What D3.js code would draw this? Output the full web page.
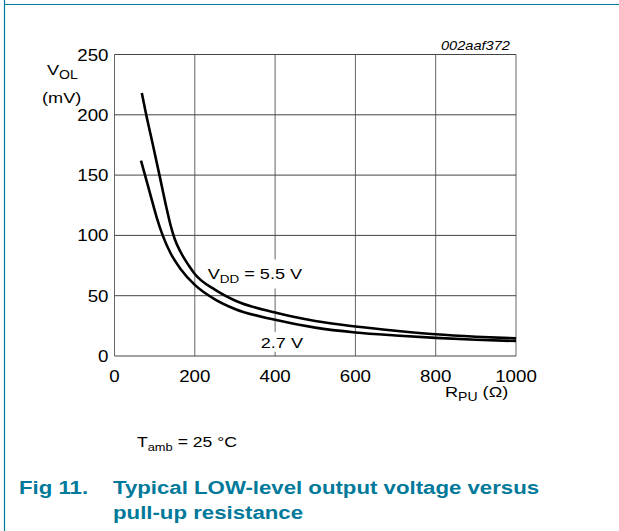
<!DOCTYPE html>
<html>
<head>
<meta charset="utf-8">
<script src="https://cdn.jsdelivr.net/npm/d3@7"></script>
<style>
  body { margin: 0; background: #fff; }
  svg text { font-family: "Liberation Sans", Arial, sans-serif; }
</style>
</head>
<body>
<svg id="chart"></svg>
<script>
// values
const xTicks = [0, 200, 400, 600, 800, 1000];
const yTicks = [0, 50, 100, 150, 200, 250];

const rpu55 = [68, 79, 95, 112, 128, 140, 150, 165, 185, 200, 250, 300, 400, 500, 600, 700, 800, 900, 1000];
const vol55 = [218, 200, 176, 150, 125, 108, 97, 86, 75, 68, 55, 46, 36, 29, 24.5, 21, 18, 16, 14.6];

const rpu27 = [66, 76, 90, 105, 120, 140, 165, 200, 250, 300, 400, 500, 600, 700, 800, 900, 1000];
const vol27 = [162, 150, 133, 115, 100, 85, 72, 59, 47, 39, 30, 23.5, 19.5, 17, 15, 13.5, 12.4];

const teal = "#00799a";
const hs = 1.17; // the original's text is a bit wide

const svg = d3.select("#chart")
    .attr("width", 619)
    .attr("height", 531);

// text helper: places text at x,y and stretches it sideways
function txt(parent, x, y, anchor) {
    return parent.append("text")
        .attr("transform", `translate(${[x, y]}) scale(${hs},1)`)
        .attr("text-anchor", anchor || "start");
}

// page frame
svg.append("line")
    .attr("x1", 4.5).attr("x2", 619).attr("y1", 4.5).attr("y2", 4.5)
    .attr("stroke", teal).attr("stroke-width", 1.2);
svg.append("line")
    .attr("x1", 4.5).attr("x2", 4.5).attr("y1", 0).attr("y2", 531)
    .attr("stroke", teal).attr("stroke-width", 1.2);

const margin = { left: 114.5, top: 54.5 };
const width = 401.5;
const height = 301.5;

const x = d3.scaleLinear().domain([0, 1000]).range([0, width]);
const y = d3.scaleLinear().domain([0, 250]).range([height, 0]);

const g = svg.append("g")
    .attr("transform", `translate(${[margin.left, margin.top]})`);

// grid
g.selectAll(".vgrid")
    .data(xTicks)
    .enter().append("line")
    .attr("x1", (d) => x(d)).attr("x2", (d) => x(d))
    .attr("y1", 0).attr("y2", height)
    .attr("stroke", "#666").attr("stroke-width", 1);

g.selectAll(".hgrid")
    .data(yTicks)
    .enter().append("line")
    .attr("x1", 0).attr("x2", width)
    .attr("y1", (d) => y(d)).attr("y2", (d) => y(d))
    .attr("stroke", "#444").attr("stroke-width", 1);

// tick labels
xTicks.forEach((d) => {
    txt(g, x(d), height + 25.5, "middle")
        .attr("font-size", 16)
        .text(d);
});
yTicks.forEach((d) => {
    txt(g, -6, y(d) + 6, "end")
        .attr("font-size", 16)
        .text(d);
});

// curve labels sit on white boxes that cut the 400 gridline
g.append("rect")
    .attr("x", x(225)).attr("y", y(80))
    .attr("width", x(470) - x(225)).attr("height", y(56) - y(80))
    .attr("fill", "#fff");
g.append("rect")
    .attr("x", x(357)).attr("y", y(20))
    .attr("width", x(467) - x(357)).attr("height", y(3.5) - y(20))
    .attr("fill", "#fff");

const lbl55 = txt(g, x(232), y(63.5), "start").attr("font-size", 15.5);
lbl55.append("tspan").text("V");
lbl55.append("tspan").attr("font-size", 11.5).attr("dy", 4).text("DD");
lbl55.append("tspan").attr("dy", -4).text(" = 5.5 V");

txt(g, x(364), y(7), "start").attr("font-size", 15.5).text("2.7 V");

// curves
const line = d3.line()
    .x((d) => x(d[0]))
    .y((d) => y(d[1]))
    .curve(d3.curveMonotoneX);

[[rpu55, vol55], [rpu27, vol27]].forEach((s) => {
    g.append("path")
        .datum(s[0].map((r, i) => [r, s[1][i]]))
        .attr("fill", "none")
        .attr("stroke", "#000")
        .attr("stroke-width", 2.6)
        .attr("d", line);
});

// axis titles
const yt = txt(svg, 47, 75, "start").attr("font-size", 15.5);
yt.append("tspan").text("V");
yt.append("tspan").attr("font-size", 12).attr("dy", 4).text("OL");
txt(svg, 42, 102.5, "start").attr("font-size", 15.5).text("(mV)");

const xt = txt(svg, 445, 397, "start").attr("font-size", 15.5);
xt.append("tspan").text("R");
xt.append("tspan").attr("font-size", 12).attr("dy", 4).text("PU");
xt.append("tspan").attr("dy", -4).text(" (Ω)");

txt(svg, 510, 50, "end")
    .attr("font-size", 12.5)
    .attr("font-style", "italic")
    .text("002aaf372");

// condition and caption
const ta = txt(svg, 137, 447, "start").attr("font-size", 15);
ta.append("tspan").text("T");
ta.append("tspan").attr("font-size", 11).attr("dy", 4).text("amb");
ta.append("tspan").attr("dy", -4).text(" = 25 °C");

txt(svg, 19, 494, "start")
    .attr("font-size", 19).attr("font-weight", "bold").attr("fill", teal)
    .text("Fig 11.");
txt(svg, 113, 494, "start")
    .attr("font-size", 19).attr("font-weight", "bold").attr("fill", teal)
    .text("Typical LOW-level output voltage versus");
txt(svg, 113, 519, "start")
    .attr("font-size", 19).attr("font-weight", "bold").attr("fill", teal)
    .text("pull-up resistance");
</script>
</body>
</html>
